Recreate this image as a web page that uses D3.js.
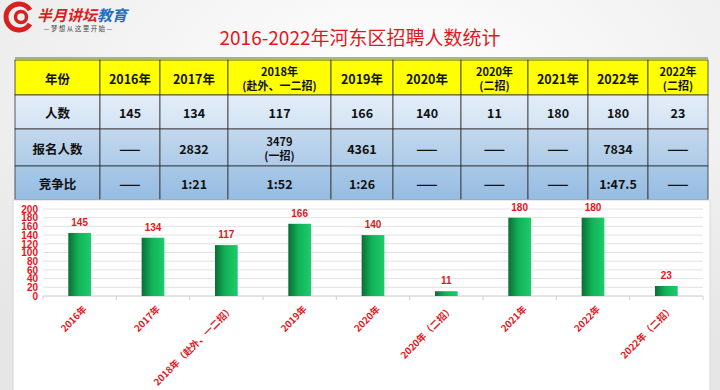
<!DOCTYPE html>
<html>
<head>
<meta charset="utf-8">
<script src="https://cdn.jsdelivr.net/npm/d3@7"></script>
<style>
  body { margin: 0; }
  svg { display: block; font-family: "Noto Sans CJK SC", "Noto Sans", sans-serif; }
</style>
</head>
<body>
<div id="chart"></div>
<script>
// values
const categories = ["2016年", "2017年", "2018年（赴外、一二招）", "2019年", "2020年",
  "2020年（二招）", "2021年", "2022年", "2022年（二招）"];
const headerLabels = ["2016年", "2017年", "2018年\n(赴外、一二招)", "2019年", "2020年",
  "2020年\n(二招)", "2021年", "2022年", "2022年\n(二招)"];
const hires = [145, 134, 117, 166, 140, 11, 180, 180, 23];
const applicants = ["——", "2832", "3479\n(一招)", "4361", "——", "——", "——", "7834", "——"];
const ratios = ["——", "1:21", "1:52", "1:26", "——", "——", "——", "1:47.5", "——"];
const rowNames = ["年份", "人数", "报名人数", "竞争比"];
const yTicks = [0, 20, 40, 60, 80, 100, 120, 140, 160, 180, 200];

const width = 720, height = 390;

const svg = d3.select("#chart")
  .append("svg")
  .attr("width", width)
  .attr("height", height);

const defs = svg.append("defs");

const bg = defs.append("radialGradient").attr("id", "bg")
  .attr("cx", "55%").attr("cy", "20%").attr("r", "80%");
bg.append("stop").attr("offset", "0%").attr("stop-color", "#ffffff");
bg.append("stop").attr("offset", "100%").attr("stop-color", "#e6e6e6");

const barGrad = defs.append("linearGradient").attr("id", "barGrad")
  .attr("x1", "0%").attr("x2", "100%");
barGrad.append("stop").attr("offset", "0%").attr("stop-color", "#0b6e35");
barGrad.append("stop").attr("offset", "45%").attr("stop-color", "#12b258");
barGrad.append("stop").attr("offset", "100%").attr("stop-color", "#1ccc6c");

function vGrad(id, top, bottom) {
  const g = defs.append("linearGradient").attr("id", id)
    .attr("x1", "0%").attr("x2", "0%").attr("y1", "0%").attr("y2", "100%");
  g.append("stop").attr("offset", "0%").attr("stop-color", top);
  g.append("stop").attr("offset", "100%").attr("stop-color", bottom);
}
vGrad("row1", "#e3edf8", "#d3e3f3");
vGrad("row2", "#c3d8ee", "#adcbe8");
vGrad("row3", "#a9c8e7", "#95bce3");

svg.append("rect").attr("width", width).attr("height", height).attr("fill", "url(#bg)");

// logo
const logo = svg.append("g");
logo.append("path")
  .attr("d", "M30,10 A13,13 0 1 0 30,24")
  .attr("fill", "none").attr("stroke", "#d7201f").attr("stroke-width", 5);
logo.append("circle").attr("cx", 21).attr("cy", 17).attr("r", 5.5)
  .attr("fill", "none").attr("stroke", "#d7201f").attr("stroke-width", 3.5);
const logoText = logo.append("text").attr("x", 37).attr("y", 21)
  .attr("font-size", 15).attr("font-weight", "bold").attr("font-style", "italic");
logoText.append("tspan").attr("fill", "#d7201f").text("半月讲坛");
logoText.append("tspan").attr("fill", "#1f6fc0").text("教育");
logo.append("text").attr("x", 78).attr("y", 31).attr("text-anchor", "middle")
  .attr("font-size", 6.5).attr("fill", "#444").text("— 梦 想 从 这 里 开 始 —");

// title
svg.append("text")
  .attr("x", 360).attr("y", 45)
  .attr("text-anchor", "middle")
  .attr("font-size", 19)
  .attr("fill", "#e3161b")
  .text("2016-2022年河东区招聘人数统计");

svg.append("line").attr("x1", 15).attr("x2", 708).attr("y1", 58).attr("y2", 58)
  .attr("stroke", "#8aa05a").attr("stroke-width", 1.5);

// table
const colW = [85, 60, 68, 103, 62, 68, 67, 60, 60, 60];
const colX = d3.cumsum([15].concat(colW.slice(0, -1)));
const rowY = [60, 95, 129, 166, 200];
const fills = ["#ffff00", "url(#row1)", "url(#row2)", "url(#row3)"];
const rows = [headerLabels, hires.map(String), applicants, ratios];

const table = svg.append("g");
rows.forEach((vals, r) => {
  const cells = [rowNames[r]].concat(vals);
  cells.forEach((txt, c) => {
    const x = colX[c], y = rowY[r], w = colW[c], h = rowY[r + 1] - rowY[r];
    table.append("rect").attr("x", x).attr("y", y).attr("width", w).attr("height", h)
      .attr("fill", fills[r]).attr("stroke", "#333").attr("stroke-width", 0.8);
    const lines = txt.split("\n");
    const t = table.append("text")
      .attr("x", x + w / 2)
      .attr("y", y + h / 2 - (lines.length - 1) * 7)
      .attr("text-anchor", "middle").attr("dominant-baseline", "central")
      .attr("font-size", lines.length > 1 ? 11 : 12.5).attr("font-weight", "bold")
      .attr("fill", "#111");
    lines.forEach((l, i) => t.append("tspan").attr("x", x + w / 2).attr("dy", i ? 14 : 0).text(l));
  });
});

// chart panel
svg.append("rect").attr("x", 13).attr("y", 200).attr("width", 697).attr("height", 195)
  .attr("fill", "#fff").attr("stroke", "#d8d8d8");

const x = d3.scaleBand().domain(categories).range([43, 703]).paddingInner(0.69).paddingOuter(0.345);
const y = d3.scaleLinear().domain([0, 200]).range([296, 209]);

const plot = svg.append("g");

plot.selectAll(".grid").data(yTicks).join("line")
  .attr("class", "grid")
  .attr("x1", 43).attr("x2", 703)
  .attr("y1", d => y(d)).attr("y2", d => y(d))
  .attr("stroke", d => d === 0 ? "#c8c8c8" : "#e2e2e2");

const step = x.step();
plot.selectAll(".sep").data(d3.range(categories.length + 1)).join("line")
  .attr("class", "sep")
  .attr("x1", i => 43 + i * step).attr("x2", i => 43 + i * step)
  .attr("y1", y(0)).attr("y2", y(0) + 4)
  .attr("stroke", "#d0d0d0");

const yAxis = plot.append("g")
  .attr("transform", "translate(39,0)")
  .call(d3.axisLeft(y).tickValues(yTicks).tickSize(0).tickPadding(1));
yAxis.select(".domain").remove();
yAxis.selectAll("text")
  .attr("fill", "#e3161b").attr("font-size", 10).attr("font-weight", "bold")
  .attr("font-family", "Liberation Sans, Arial, sans-serif");

plot.selectAll(".bar").data(hires).join("rect")
  .attr("class", "bar")
  .attr("x", (d, i) => x(categories[i]))
  .attr("y", d => y(d))
  .attr("width", x.bandwidth())
  .attr("height", d => y(0) - y(d))
  .attr("fill", "url(#barGrad)");

plot.selectAll(".val").data(hires).join("text")
  .attr("class", "val")
  .attr("x", (d, i) => x(categories[i]) + x.bandwidth() / 2)
  .attr("y", d => y(d) - 7)
  .attr("text-anchor", "middle")
  .attr("font-size", 10).attr("font-weight", "bold")
  .attr("font-family", "Liberation Sans, Arial, sans-serif")
  .attr("fill", "#e3161b")
  .text(d => d);

plot.selectAll(".xlab").data(categories).join("text")
  .attr("class", "xlab")
  .attr("transform", d => `translate(${x(d) + x.bandwidth() / 2 + 5},${y(0) + 11}) rotate(-45)`)
  .attr("text-anchor", "end")
  .attr("dominant-baseline", "central")
  .attr("font-size", 9.5).attr("font-weight", "bold")
  .attr("fill", "#e3161b")
  .text(d => d);
</script>
</body>
</html>
